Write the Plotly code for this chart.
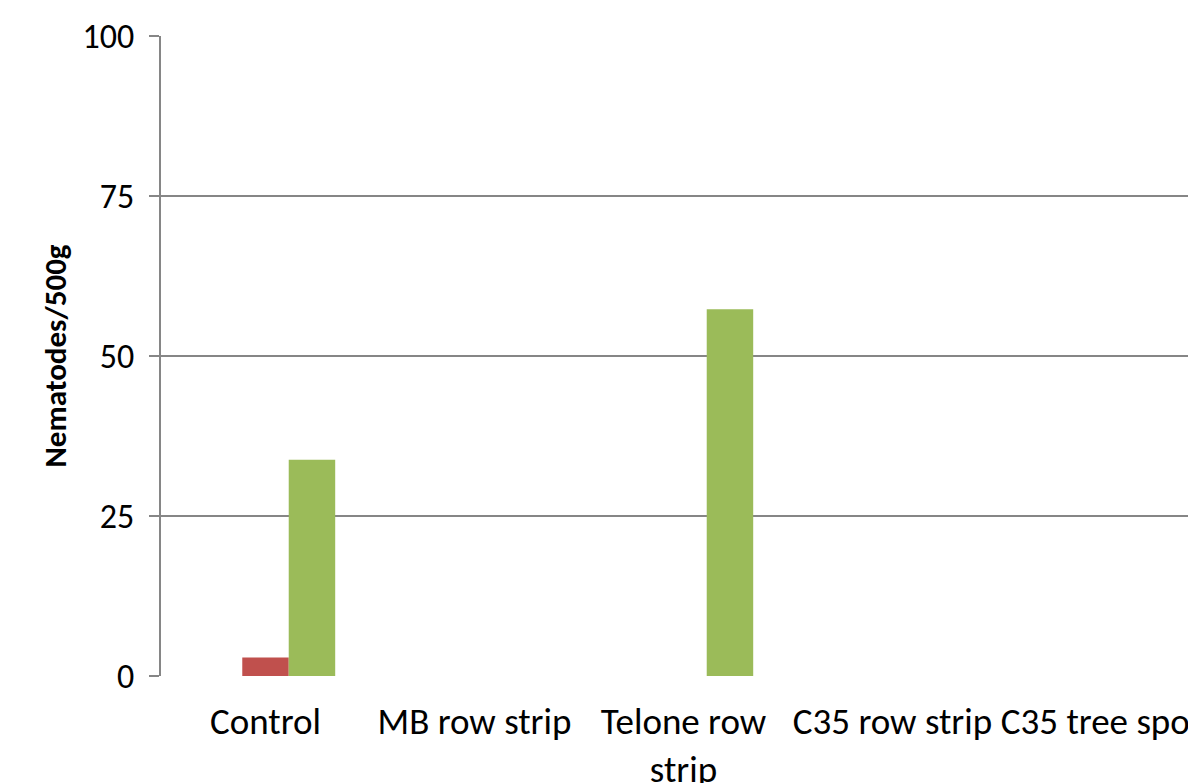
import plotly.graph_objects as go

# Nematode counts per 500 g of soil, by fumigation treatment
categories = ["Control", "MB row strip", "Telone row<br>strip", "C35 row strip", "C35 tree spot"]
series_names = ["Sample 1", "Sample 2", "Sample 3"]
series_values = [
    [0, 0, 0, 0, 0],
    [2.9, 0, 0, 0, 0],
    [33.8, 0, 57.3, 0, 0],
]
series_colors = ["#4F81BD", "#C0504D", "#9BBB59"]
y_ticks = [0, 25, 50, 75, 100]

FONT = "Calibri, Carlito, Lato, sans-serif"
GRID = "#868686"

fig = go.Figure()
for name, vals, col in zip(series_names, series_values, series_colors):
    fig.add_trace(go.Bar(
        x=categories, y=vals, name=name,
        marker=dict(color=col, line=dict(width=0)),
    ))

fig.update_layout(
    width=1188, height=783, autosize=False,
    margin=dict(l=161, r=0, t=36, b=107),
    paper_bgcolor="white", plot_bgcolor="white",
    barmode="group", bargap=0.333, bargroupgap=0,
    showlegend=False,
    font=dict(family=FONT, color="black"),
)
fig.update_xaxes(
    range=[-0.5, -0.5 + 1027 / 209],
    automargin=False,
    showline=False, showgrid=False, ticks="",
    tickfont=dict(size=37, family=FONT, color="black"),
    ticklabelstandoff=20,
    zeroline=False,
)
fig.update_yaxes(
    range=[0, 100], tickvals=y_ticks,
    automargin=False,
    showgrid=True, gridcolor=GRID, gridwidth=2,
    showline=True, linecolor=GRID, linewidth=2,
    ticks="outside", ticklen=10, tickcolor=GRID, tickwidth=2,
    tickfont=dict(size=34, family=FONT, color="black"),
    ticklabelstandoff=8,
    zeroline=False,
    title=dict(text="<b>Nematodes/500g</b>", font=dict(size=31, family=FONT, color="black"), standoff=7),
)

fig.write_html("out.html")
